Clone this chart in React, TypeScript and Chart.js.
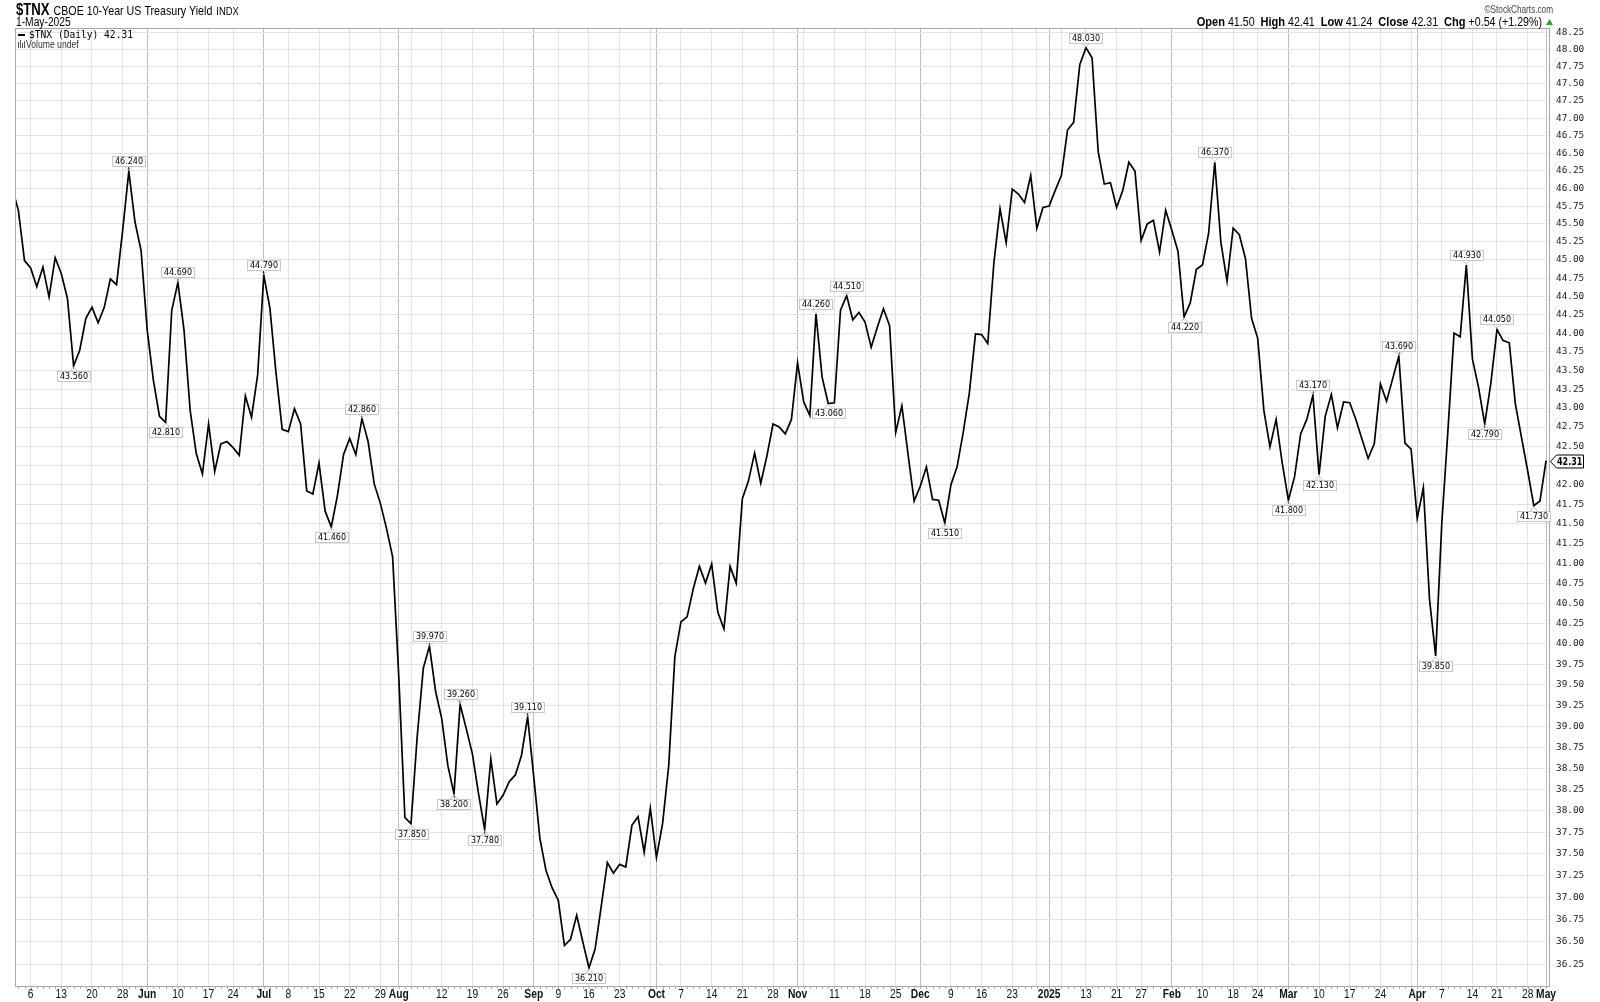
import React, { useEffect, useRef } from "react";
import { Chart, registerables } from "chart.js";
Chart.register(...registerables);

// ---- DATA ----
// first value is the trading day before the window (line enters from the left edge)
const START_INDEX = -1;
const yieldValues = [
  46.00, 45.69, 44.99, 44.89, 44.63, 44.90, 44.49, 45.03, 44.81, 44.47,
  43.56, 43.77, 44.20, 44.35, 44.14, 44.35, 44.74, 44.66, 45.41, 46.24,
  45.53, 45.13, 44.04, 43.37, 42.89, 42.81, 44.31, 44.69, 44.04, 42.97,
  42.40, 42.14, 42.79, 42.17, 42.53, 42.56, 42.48, 42.38, 43.16, 42.88,
  43.44, 44.79, 44.34, 43.46, 42.72, 42.69, 42.99, 42.79, 41.92, 41.88,
  42.28, 41.66, 41.46, 41.86, 42.39, 42.60, 42.39, 42.86, 42.56, 42.01,
  41.76, 41.44, 41.08, 39.60, 37.92, 37.85, 38.87, 39.70, 39.97, 39.42,
  39.09, 38.53, 38.20, 39.26, 38.97, 38.67, 38.20, 37.78, 38.61, 38.08,
  38.18, 38.34, 38.42, 38.65, 39.11, 38.40, 37.68, 37.31, 37.11, 36.97,
  36.46, 36.53, 36.80, 36.50, 36.21, 36.42, 36.90, 37.40, 37.28, 37.38,
  37.35, 37.83, 37.93, 37.52, 38.03, 37.46, 37.85, 38.53, 39.84, 40.27,
  40.33, 40.68, 40.96, 40.75, 40.99, 40.39, 40.18, 40.96, 40.75, 41.82,
  42.05, 42.41, 42.02, 42.37, 42.79, 42.75, 42.66, 42.85, 43.60, 43.08,
  42.90, 44.26, 43.41, 43.06, 43.07, 44.31, 44.51, 44.18, 44.28, 44.15,
  43.81, 44.08, 44.33, 44.10, 42.68, 43.03, 42.40, 41.79, 41.98, 42.23,
  41.81, 41.80, 41.51, 42.00, 42.23, 42.68, 43.20, 43.99, 43.98, 43.86,
  44.96, 45.71, 45.24, 45.99, 45.92, 45.80, 46.18, 45.44, 45.73, 45.75,
  45.97, 46.18, 46.83, 46.94, 47.78, 48.03, 47.88, 46.52, 46.06, 46.08,
  45.73, 45.97, 46.37, 46.24, 45.27, 45.50, 45.55, 45.11, 45.69, 45.41,
  45.12, 44.22, 44.41, 44.87, 44.93, 45.37, 46.37, 45.24, 44.71, 45.44,
  45.35, 45.02, 44.20, 43.93, 42.97, 42.49, 42.85, 42.28, 41.80, 42.10,
  42.66, 42.85, 43.17, 42.13, 42.89, 43.18, 42.74, 43.08, 43.07, 42.85,
  42.59, 42.34, 42.53, 43.32, 43.09, 43.39, 43.69, 42.54, 42.46, 41.57,
  41.96, 40.55, 39.85, 41.50, 42.70, 44.00, 43.95, 44.93, 43.65, 43.27,
  42.79, 43.33, 44.05, 43.90, 43.87, 43.05, 42.61, 42.18, 41.73, 41.79,
  42.31,
];

// trading-day index of each week/month gridline and its label
const xTickIndex = [2, 7, 12, 17, 21, 26, 31, 35, 40, 44, 49, 54, 59, 62, 64, 69, 74, 79, 84, 88, 93, 98, 103, 104, 108, 113, 118, 123, 127, 128, 133, 138, 143, 147, 152, 157, 162, 166, 168, 170, 174, 179, 183, 188, 193, 198, 202, 207, 212, 217, 222, 227, 228, 232, 237, 241, 246, 249];
const xTickLabels = ["6", "13", "20", "28", "Jun", "10", "17", "24", "Jul", "8", "15", "22", "29", "Aug", "", "12", "19", "26", "Sep", "9", "16", "23", "", "Oct", "7", "14", "21", "28", "Nov", "", "11", "18", "25", "Dec", "9", "16", "23", "", "2025", "", "13", "21", "27", "Feb", "10", "18", "24", "Mar", "10", "17", "24", "", "Apr", "7", "14", "21", "28", "May"];
const monthLabels = ["Jun", "Jul", "Aug", "Sep", "Oct", "Nov", "Dec", "2025", "Feb", "Mar", "Apr", "May"];
const monthTickIndex = [21, 40, 62, 84, 104, 127, 147, 168, 188, 207, 228, 249];

const yTickValues = [
  36.25, 36.5, 36.75, 37.0, 37.25, 37.5, 37.75, 38.0, 38.25, 38.5, 38.75, 39.0, 39.25,
  39.5, 39.75, 40.0, 40.25, 40.5, 40.75, 41.0, 41.25, 41.5, 41.75, 42.0, 42.25, 42.5,
  42.75, 43.0, 43.25, 43.5, 43.75, 44.0, 44.25, 44.5, 44.75, 45.0, 45.25, 45.5, 45.75,
  46.0, 46.25, 46.5, 46.75, 47.0, 47.25, 47.5, 47.75, 48.0, 48.25,
];

// marked highs / lows (trading-day index)
const peakIndex = [18, 26, 40, 56, 67, 72, 83, 130, 135, 174, 195, 211, 225, 236, 241];
const troughIndex = [9, 24, 51, 64, 71, 76, 93, 132, 151, 190, 207, 212, 231, 239, 247];

const symbol = "$TNX";
const titleText = "CBOE 10-Year US Treasury Yield";
const exchangeText = "INDX";
const dateText = "1-May-2025";
const openVal = 41.5;
const highVal = 42.41;
const lowVal = 41.24;
const closeVal = 42.31;
const chgVal = 0.54;
const chgPct = 1.29;

const ARIAL = '"Liberation Sans", Arial, sans-serif';
const MONO = '"DejaVu Sans Mono", "Liberation Mono", monospace';
const SANS = '"DejaVu Sans", Verdana, sans-serif';
const NARROW_SCALE = 0.82;

const valueAt = (i: number) => yieldValues[i - START_INDEX];

// draws condensed text (Arial Narrow look) and returns its width
const narrowText = (
  ctx: CanvasRenderingContext2D,
  text: string,
  x: number,
  y: number,
  font: string,
  align: "left" | "center" | "right" = "left",
  sx: number = NARROW_SCALE
) => {
  ctx.save();
  ctx.font = font;
  const w = ctx.measureText(text).width * sx;
  const left = align === "left" ? x : align === "center" ? x - w / 2 : x - w;
  ctx.translate(left, y);
  ctx.scale(sx, 1);
  ctx.textAlign = "left";
  ctx.fillText(text, 0, 0);
  ctx.restore();
  return w;
};

const decorPlugin = {
  id: "decor",
  beforeDraw(chart: any) {
    const ctx = chart.ctx;
    ctx.save();
    ctx.fillStyle = "#ffffff";
    ctx.fillRect(0, 0, chart.width, chart.height);
    ctx.restore();
  },
  afterDraw(chart: any) {
    const ctx: CanvasRenderingContext2D = chart.ctx;
    const a = chart.chartArea;
    const xs = chart.scales.x;
    const ys = chart.scales.y;
    ctx.save();

    // frame
    ctx.strokeStyle = "#a8a8a8";
    ctx.lineWidth = 1;
    ctx.strokeRect(Math.round(a.left) + 0.5, Math.round(a.top) + 0.5, Math.round(a.right - a.left) - 1, Math.round(a.bottom - a.top));

    // day ticks on the bottom axis
    ctx.strokeStyle = "#b0b0b0";
    ctx.beginPath();
    for (let i = 0; i < yieldValues.length + START_INDEX; i++) {
      const px = Math.round(xs.getPixelForValue(i)) + 0.5;
      ctx.moveTo(px, a.bottom + 1);
      ctx.lineTo(px, a.bottom + 3);
    }
    ctx.stroke();

    // x-axis labels (condensed)
    ctx.fillStyle = "#111";
    ctx.textBaseline = "alphabetic";
    xTickIndex.forEach((i, k) => {
      const lab = xTickLabels[k];
      if (!lab) return;
      const bold = monthLabels.includes(lab);
      narrowText(ctx, lab, xs.getPixelForValue(i), a.bottom + 11.5, `${bold ? "bold " : ""}12.5px ${ARIAL}`, "center");
    });

    // high / low value boxes
    const drawBox = (i: number, above: boolean) => {
      const v = valueAt(i);
      const px = xs.getPixelForValue(i);
      const py = ys.getPixelForValue(v);
      const txt = v.toFixed(3);
      ctx.font = `8px ${SANS}`;
      const w = Math.round(ctx.measureText(txt).width + 5);
      const h = 10;
      const gap = 5;
      const bx = Math.round(px - w / 2) + 0.5;
      const by = Math.round(above ? py - gap - h : py + gap) + 0.5;
      ctx.strokeStyle = "#c8c8c8";
      ctx.lineWidth = 1;
      ctx.beginPath();
      if (above) {
        ctx.moveTo(px - 4, by + h);
        ctx.lineTo(px, py - 1);
        ctx.lineTo(px + 4, by + h);
      } else {
        ctx.moveTo(px - 4, by);
        ctx.lineTo(px, py + 1);
        ctx.lineTo(px + 4, by);
      }
      ctx.stroke();
      ctx.fillStyle = "#ffffff";
      ctx.fillRect(bx, by, w, h);
      ctx.strokeRect(bx, by, w, h);
      ctx.fillStyle = "#000000";
      ctx.textAlign = "center";
      ctx.textBaseline = "middle";
      ctx.fillText(txt, bx + w / 2, by + h / 2 + 0.5);
    };
    peakIndex.forEach((i) => drawBox(i, true));
    troughIndex.forEach((i) => drawBox(i, false));

    // last price marker on the right axis
    const cy = Math.round(ys.getPixelForValue(closeVal)) + 0.5;
    const mx = Math.round(a.right) + 0.5;
    ctx.beginPath();
    ctx.moveTo(mx, cy);
    ctx.lineTo(mx + 6, cy - 6.5);
    ctx.lineTo(mx + 33, cy - 6.5);
    ctx.lineTo(mx + 33, cy + 6.5);
    ctx.lineTo(mx + 6, cy + 6.5);
    ctx.closePath();
    ctx.fillStyle = "#ffffff";
    ctx.fill();
    ctx.strokeStyle = "#000000";
    ctx.stroke();
    ctx.fillStyle = "#000000";
    ctx.textBaseline = "middle";
    narrowText(ctx, closeVal.toFixed(2), mx + 6.5, cy + 0.5, `bold 10px ${SANS}`, "left", 0.8);

    // legend inside plot
    ctx.fillStyle = "#000";
    ctx.fillRect(18, 34, 7, 2);
    ctx.font = `9.6px ${MONO}`;
    ctx.textAlign = "left";
    ctx.textBaseline = "middle";
    ctx.fillText(`${symbol} (Daily) ${closeVal.toFixed(2)}`, 29, 35.5);
    ctx.fillStyle = "#555";
    ctx.fillRect(18, 42, 1, 6);
    ctx.fillRect(20, 40, 1, 8);
    ctx.fillRect(22, 43, 1, 5);
    ctx.fillRect(24, 41, 1, 7);
    ctx.fillStyle = "#333";
    narrowText(ctx, "Volume undef", 26, 45, `10.5px ${ARIAL}`);

    // header
    ctx.textBaseline = "alphabetic";
    ctx.fillStyle = "#000";
    let x = 16;
    x += narrowText(ctx, symbol, x, 15, `bold 16px ${ARIAL}`) + 4;
    x += narrowText(ctx, titleText, x, 15, `13px ${ARIAL}`) + 4;
    narrowText(ctx, exchangeText, x, 15, `11.5px ${ARIAL}`);
    narrowText(ctx, dateText, 16, 26, `12.5px ${ARIAL}`);

    // right header
    ctx.fillStyle = "#444";
    narrowText(ctx, "\u00A9StockCharts.com", 1553, 13, `10px ${ARIAL}`, "right");

    const sign = chgVal >= 0 ? "+" : "";
    const parts: [string, boolean][] = [
      ["Open", true], [` ${openVal.toFixed(2)}  `, false],
      ["High", true], [` ${highVal.toFixed(2)}  `, false],
      ["Low", true], [` ${lowVal.toFixed(2)}  `, false],
      ["Close", true], [` ${closeVal.toFixed(2)}  `, false],
      ["Chg", true], [` ${sign}${chgVal.toFixed(2)} (${sign}${chgPct.toFixed(2)}%) `, false],
    ];
    const fontFor = (b: boolean) => (b ? `bold 13.5px ${ARIAL}` : `13px ${ARIAL}`);
    let total = 0;
    parts.forEach(([t, b]) => {
      ctx.font = fontFor(b);
      total += ctx.measureText(t).width * NARROW_SCALE;
    });
    let px = 1545 - total;
    ctx.fillStyle = "#000";
    parts.forEach(([t, b]) => {
      px += narrowText(ctx, t, px, 26, fontFor(b));
    });
    ctx.fillStyle = "#2e9e3a";
    ctx.beginPath();
    ctx.moveTo(1546, 25);
    ctx.lineTo(1553, 25);
    ctx.lineTo(1549.5, 19);
    ctx.closePath();
    ctx.fill();

    ctx.restore();
  },
};

export default function App() {
  const canvasRef = useRef<HTMLCanvasElement | null>(null);

  useEffect(() => {
    const canvas = canvasRef.current;
    if (!canvas) return;
    const points = yieldValues.map((v, k) => ({ x: k + START_INDEX, y: v }));
    const isMonthTick = (v: number) => monthTickIndex.includes(v);

    const chart = new Chart(canvas, {
      type: "line",
      data: {
        datasets: [
          {
            data: points,
            borderColor: "#000000",
            borderWidth: 1.7,
            pointRadius: 0,
            tension: 0,
            clip: 0,
            fill: false,
          },
        ],
      },
      options: {
        animation: false,
        responsive: false,
        devicePixelRatio: 1,
        layout: { padding: { left: 15, top: 28, right: 0, bottom: 0 } },
        plugins: { legend: { display: false }, tooltip: { enabled: false }, title: { display: false } },
        scales: {
          x: {
            type: "linear",
            min: -0.55,
            max: 249.64,
            afterBuildTicks: (s: any) => {
              s.ticks = xTickIndex.map((v) => ({ value: v }));
            },
            afterFit: (s: any) => {
              s.height = 16;
            },
            grid: {
              color: (c: any) => (c.tick && isMonthTick(c.tick.value) ? "#bdbdbd" : "#e3e3e3"),
              drawTicks: false,
              lineWidth: 1,
            },
            border: { display: false },
            ticks: { display: false, autoSkip: false },
          },
          y: {
            type: "logarithmic",
            position: "right",
            min: 36.01,
            max: 48.32,
            afterBuildTicks: (s: any) => {
              s.ticks = yTickValues.map((v) => ({ value: v }));
            },
            afterFit: (s: any) => {
              s.width = 50;
            },
            grid: { color: "#e3e3e3", drawTicks: false, lineWidth: 1 },
            border: { display: false },
            ticks: {
              autoSkip: false,
              padding: 6,
              color: "#222",
              callback: (v: any) => Number(v).toFixed(2),
              font: { family: MONO, size: 9.4 },
            },
          },
        },
      },
      plugins: [decorPlugin],
    } as any);

    return () => chart.destroy();
  }, []);

  return (
    <div style={{ position: "absolute", left: 0, top: 0, width: 1600, height: 1002, background: "#fff" }}>
      <canvas ref={canvasRef} width={1600} height={1002} style={{ display: "block", width: 1600, height: 1002 }} />
    </div>
  );
}
